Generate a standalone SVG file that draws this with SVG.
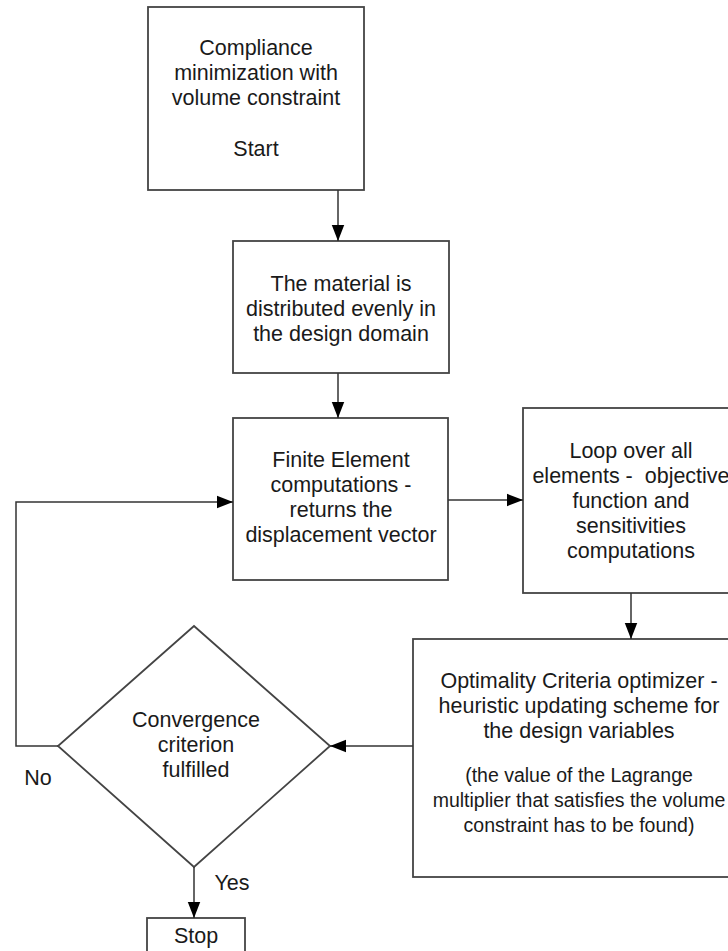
<svg xmlns="http://www.w3.org/2000/svg" width="728" height="951" viewBox="0 0 728 951">
<style>
.box{fill:#fff;stroke:#444;stroke-width:1.8}
.t{font-family:"Liberation Sans",Arial,sans-serif;font-size:21.5px;fill:#1a1a1a;text-anchor:middle}
.s{font-size:19.5px}
.c{fill:none;stroke:#333;stroke-width:1.5}
</style>
<defs>
<marker id="ah" markerUnits="userSpaceOnUse" markerWidth="16" markerHeight="20" refX="18" refY="7" orient="auto" viewBox="0 0 18 14">
<path d="M0,0 L18,7 L0,14 Z" fill="#000"/>
</marker>
</defs>
<rect width="728" height="951" fill="#fff"/>
<g id="start">
<rect class="box" x="148" y="7" width="216" height="183"/>
<text class="t" x="256" y="55">Compliance</text>
<text class="t" x="256" y="80">minimization with</text>
<text class="t" x="256" y="105">volume constraint</text>
<text class="t" x="256" y="156">Start</text>
</g>
<g id="distribute">
<rect class="box" x="233" y="241" width="216" height="132"/>
<text class="t" x="341" y="291">The material is</text>
<text class="t" x="341" y="316">distributed evenly in</text>
<text class="t" x="341" y="341">the design domain</text>
</g>
<g id="fe">
<rect class="box" x="233" y="418" width="215" height="162"/>
<text class="t" x="341" y="467">Finite Element</text>
<text class="t" x="341" y="492">computations -</text>
<text class="t" x="341" y="517">returns the</text>
<text class="t" x="341" y="542">displacement vector</text>
</g>
<g id="loop">
<rect class="box" x="523" y="408" width="216" height="185"/>
<text class="t" x="631" y="458">Loop over all</text>
<text class="t" x="631" y="483" xml:space="preserve">elements -  objective</text>
<text class="t" x="631" y="508">function and</text>
<text class="t" x="631" y="533">sensitivities</text>
<text class="t" x="631" y="558">computations</text>
</g>
<g id="oc">
<rect class="box" x="413" y="639" width="332" height="238"/>
<text class="t" x="579" y="688">Optimality Criteria optimizer -</text>
<text class="t" x="579" y="713">heuristic updating scheme for</text>
<text class="t" x="579" y="738">the design variables</text>
<text class="t s" x="579" y="782">(the value of the Lagrange</text>
<text class="t s" x="579" y="807">multiplier that satisfies the volume</text>
<text class="t s" x="579" y="832">constraint has to be found)</text>
</g>
<g id="convergence">
<polygon class="box" points="194,626 330,746 194,867 58,746"/>
<text class="t" x="196" y="727">Convergence</text>
<text class="t" x="196" y="752">criterion</text>
<text class="t" x="196" y="777">fulfilled</text>
</g>
<g id="stop">
<rect class="box" x="147" y="918" width="98" height="50"/>
<text class="t" x="196" y="943">Stop</text>
</g>
<g id="connectors">
<line class="c" x1="338" y1="190" x2="338" y2="241" marker-end="url(#ah)"/>
<line class="c" x1="338" y1="373" x2="338" y2="418" marker-end="url(#ah)"/>
<line class="c" x1="448" y1="500" x2="523" y2="500" marker-end="url(#ah)"/>
<line class="c" x1="631" y1="593" x2="631" y2="639" marker-end="url(#ah)"/>
<line class="c" x1="413" y1="746" x2="330" y2="746" marker-end="url(#ah)"/>
<polyline class="c" points="58,746 16,746 16,502 233,502" marker-end="url(#ah)"/>
<line class="c" x1="194" y1="867" x2="194" y2="918" marker-end="url(#ah)"/>
<text class="t" x="38" y="785">No</text>
<text class="t" x="232" y="890">Yes</text>
</g>
</svg>
